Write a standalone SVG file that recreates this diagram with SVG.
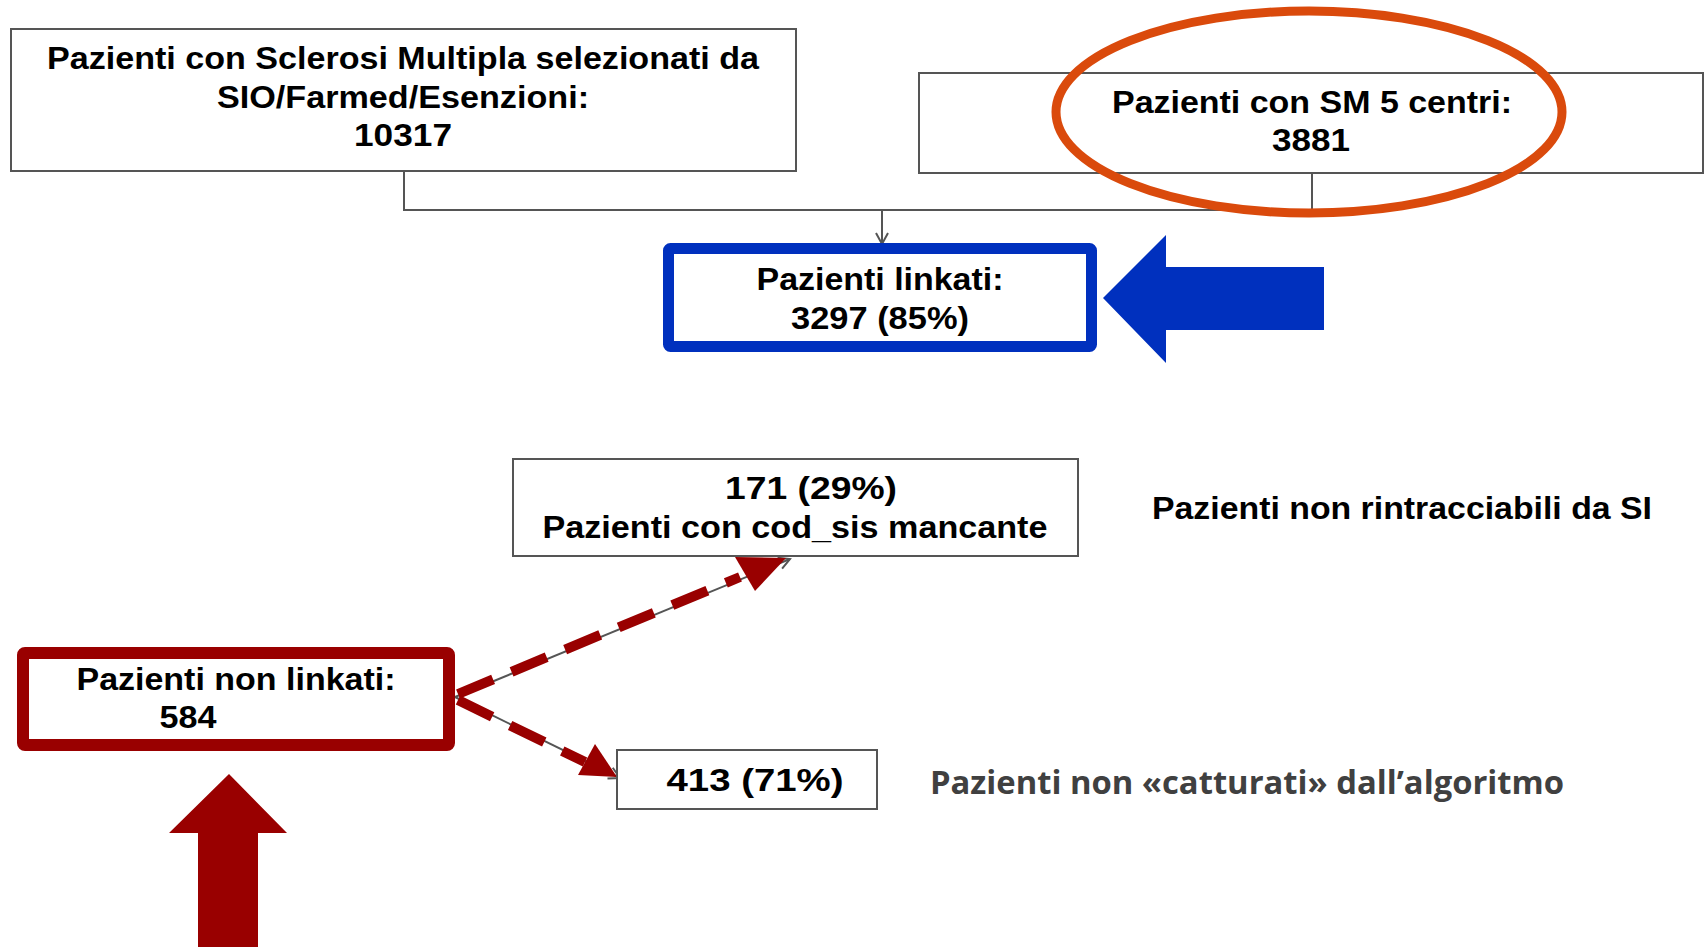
<svg xmlns="http://www.w3.org/2000/svg" width="1707" height="947" viewBox="0 0 1707 947">
<style>
.box{fill:#fff;stroke:#555;stroke-width:2}
.t{font-family:"Liberation Sans Narrow","Liberation Sans",Arial,sans-serif;font-weight:bold;font-size:31px;fill:#000;text-anchor:middle}
.c{font-family:"Open Sans","Liberation Sans",sans-serif;font-weight:bold;font-size:32px;fill:#404040}
.conn{fill:none;stroke:#555;stroke-width:2}
.dash{fill:none;stroke:#990000;stroke-width:10;stroke-dasharray:38 20}
</style>
<defs>
<marker id="open" markerWidth="14" markerHeight="14" refX="12" refY="7" orient="auto" markerUnits="userSpaceOnUse">
<path d="M1,1 L12,7 L1,13" fill="none" stroke="#555" stroke-width="2"/>
</marker>
</defs>
<g id="connectors">
<path class="conn" d="M404,171 V210 H1312 M1312,173 V210"/>
<path class="conn" d="M882,210 V244" marker-end="url(#open)"/>
<path class="conn" d="M455,697 L790,559" marker-end="url(#open)"/>
<path class="conn" d="M455,697 L620,778" marker-end="url(#open)"/>
<path class="dash" d="M458,694 L740,577"/>
<polygon points="786,558 735,557 755,591" fill="#990000"/>
<path class="dash" d="M458,700 L585,762"/>
<polygon points="617,777 578,775 595,744" fill="#990000"/>
</g>
<g id="n-sio">
<rect class="box" x="11" y="29" width="785" height="142"/>
<text class="t" x="403" y="69" textLength="712" lengthAdjust="spacingAndGlyphs">Pazienti con Sclerosi Multipla selezionati da</text>
<text class="t" x="403" y="108" textLength="372" lengthAdjust="spacingAndGlyphs">SIO/Farmed/Esenzioni:</text>
<text class="t" x="403" y="146" textLength="98" lengthAdjust="spacingAndGlyphs">10317</text>
</g>
<g id="n-sm">
<rect class="box" x="919" y="73" width="784" height="100"/>
<text class="t" x="1312" y="113" textLength="400" lengthAdjust="spacingAndGlyphs">Pazienti con SM 5 centri:</text>
<text class="t" x="1311" y="151" textLength="78" lengthAdjust="spacingAndGlyphs">3881</text>
</g>
<g id="highlight-ellipse">
<ellipse cx="1309" cy="112" rx="253" ry="101" fill="none" stroke="#DA4A0C" stroke-width="9"/>
</g>
<g id="n-linkati">
<rect x="668.5" y="248.5" width="423" height="98" fill="#fff" stroke="#0030BE" stroke-width="11" rx="2"/>
<text class="t" x="880" y="290" textLength="247" lengthAdjust="spacingAndGlyphs">Pazienti linkati:</text>
<text class="t" x="880" y="329" textLength="178" lengthAdjust="spacingAndGlyphs">3297 (85%)</text>
</g>
<g id="blue-arrow">
<polygon points="1103,298 1166,235 1166,267 1324,267 1324,330 1166,330 1166,363" fill="#0030BE"/>
</g>
<g id="n-cod">
<rect class="box" x="513" y="459" width="565" height="97"/>
<text class="t" x="811" y="499" textLength="172" lengthAdjust="spacingAndGlyphs">171  (29%)</text>
<text class="t" x="795" y="538" textLength="505" lengthAdjust="spacingAndGlyphs">Pazienti con cod_sis mancante</text>
</g>
<g id="label-si">
<text class="t" x="1402" y="519" textLength="500" lengthAdjust="spacingAndGlyphs">Pazienti non rintracciabili da SI</text>
</g>
<g id="n-nonlinkati">
<rect x="23" y="653" width="426" height="92" fill="#fff" stroke="#990000" stroke-width="12" rx="2"/>
<text class="t" x="236" y="690" textLength="319" lengthAdjust="spacingAndGlyphs">Pazienti non linkati:</text>
<text class="t" x="188" y="728" textLength="57" lengthAdjust="spacingAndGlyphs">584</text>
</g>
<g id="n-413">
<rect class="box" x="617" y="750" width="260" height="59"/>
<text class="t" x="755" y="791" textLength="177" lengthAdjust="spacingAndGlyphs">413  (71%)</text>
</g>
<g id="label-alg">
<text class="c" x="930" y="794" textLength="634" lengthAdjust="spacingAndGlyphs">Pazienti non «catturati» dall’algoritmo</text>
</g>
<g id="red-arrow">
<polygon points="229,774 287,833 258,833 258,947 198,947 198,833 169,833" fill="#990000"/>
</g>
</svg>
